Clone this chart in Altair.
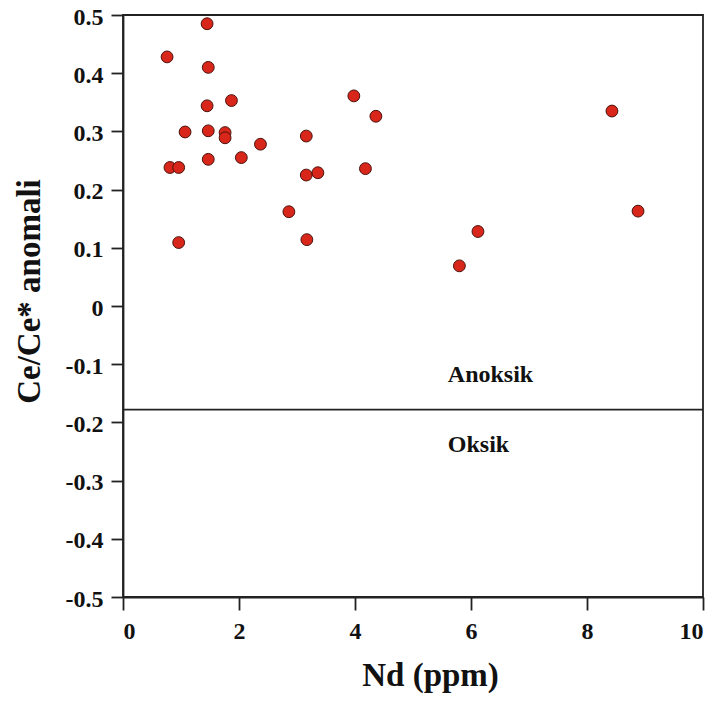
import altair as alt
import pandas as pd

nd = [1.45, 0.76, 1.47, 3.98, 1.87, 4.36, 1.45, 1.07, 1.47, 1.76, 1.76, 3.16, 2.37, 2.04,
      1.47, 0.81, 0.96, 3.16, 3.36, 4.18, 2.86, 3.17, 0.96, 8.43, 8.88, 6.12, 5.80]
ce = [0.485, 0.428, 0.41, 0.361, 0.353, 0.326, 0.344, 0.299, 0.301, 0.298, 0.289, 0.292, 0.278, 0.255,
      0.252, 0.238, 0.238, 0.225, 0.229, 0.236, 0.162, 0.114, 0.109, 0.335, 0.163, 0.128, 0.069]

boundary = -0.178
label_text = ["Anoksik", "Oksik"]
label_x = [5.6, 5.6]
label_y = [-0.131, -0.251]

x_ticks = [0, 2, 4, 6, 8, 10]
y_ticks = [0.5, 0.4, 0.3, 0.2, 0.1, 0, -0.1, -0.2, -0.3, -0.4, -0.5]

df = pd.DataFrame({"Nd": nd, "Ce": ce})
labels = pd.DataFrame({"t": label_text, "x": label_x, "y": label_y})
rule_df = pd.DataFrame({"y": [boundary]})

FONT = "Liberation Serif"

xscale = alt.Scale(domain=[0, 10], nice=False, zero=False)
yscale = alt.Scale(domain=[-0.5, 0.5], nice=False, zero=False)

points = alt.Chart(df).mark_point(
    filled=True, shape="circle", size=140, fill="#d8261b", stroke="#4a120c",
    strokeWidth=1, opacity=1
).encode(
    x=alt.X("Nd:Q", scale=xscale, title="Nd (ppm)",
            axis=alt.Axis(values=x_ticks, format="d", grid=False,
                          tickSize=13, labelPadding=9,
                          titleX=307, titleY=88, titleBaseline="alphabetic",
                          titleAlign="center")),
    y=alt.Y("Ce:Q", scale=yscale, title="Ce/Ce* anomali",
            axis=alt.Axis(values=y_ticks,
                          labelExpr="datum.value == 0 ? '0' : (datum.value < 0 ? '-' : '') + format(abs(datum.value), '.1f')",
                          grid=False, tickSize=12, labelPadding=8, labelOffset=2,
                          titleX=-84, titleY=276, titleAngle=270,
                          titleBaseline="alphabetic", titleAlign="center")),
)

rule = alt.Chart(rule_df).mark_rule(color="#222222", strokeWidth=1.8).encode(
    y=alt.Y("y:Q", scale=yscale)
)

text = alt.Chart(labels).mark_text(
    font=FONT, fontSize=24, fontWeight="bold", color="#111111",
    align="left", baseline="alphabetic"
).encode(
    x=alt.X("x:Q", scale=xscale),
    y=alt.Y("y:Q", scale=yscale),
    text="t:N",
)

chart = alt.layer(rule, points, text).properties(
    width=580, height=582,
    autosize=alt.AutoSizeParams(type="none"),
    padding={"left": 115, "top": 7, "right": 11, "bottom": 97},
).configure_view(
    stroke="#222222", strokeWidth=1.8
).configure_axis(
    domainColor="#222222", domainWidth=1.8, tickColor="#222222", tickWidth=1.8,
    labelFont=FONT, labelFontSize=24, labelFontWeight="bold", labelColor="#111111",
    titleFont=FONT, titleFontSize=33, titleFontWeight="bold", titleColor="#111111",
)

chart.save("out.html", embed_options={"renderer": "svg", "actions": False})
